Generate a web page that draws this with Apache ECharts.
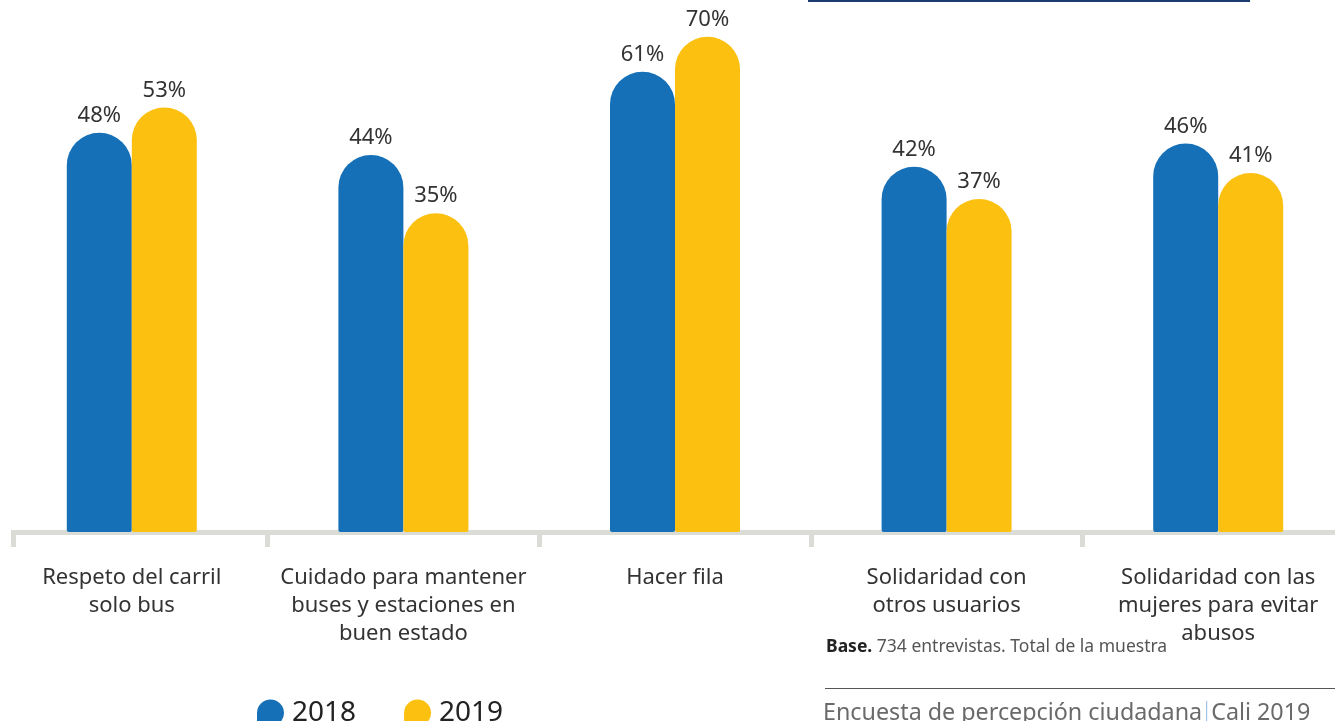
<!DOCTYPE html>
<html><head><meta charset="utf-8">
<script src="https://cdn.jsdelivr.net/npm/echarts@6/dist/echarts.min.js"></script>
<style>html,body{margin:0;padding:0;background:#fff}#c{width:1335px;height:721px}</style>
</head><body><div id="c"></div>
<script>
const categories = [
  'Respeto del carril\nsolo bus',
  'Cuidado para mantener\nbuses y estaciones en\nbuen estado',
  'Hacer fila',
  'Solidaridad con\notros usuarios',
  'Solidaridad con las\nmujeres para evitar\nabusos'
];
const seriesNames = ['2018', '2019'];
const values2018 = [48, 44, 61, 42, 46];
const values2019 = [53, 35, 70, 37, 41];
const baseNote = ' 734 entrevistas. Total de la muestra';
const footerLeft = 'Encuesta de percepción ciudadana';
const footerRight = 'Cali 2019';

const BLUE = '#1570b7', YELLOW = '#fcc010', AXIS = '#dcdcd6', TXT = '#333333';
const FONT = 'Noto Sans';
const leaf = 'path://M5,0 A5,5 0 0 1 10,5 A5,5 0 0 1 5,10 L0,10 L0,5 A5,5 0 0 1 5,0 Z';

const chart = echarts.init(document.getElementById('c'), null, {renderer: 'canvas'});
function barSeries(name, data, color) {
  return {
    name: name, type: 'bar', data: data, barWidth: 65, barGap: '0%', clip: true,
    itemStyle: {color: color, borderRadius: [32.5, 32.5, 2, 2]},
    label: {show: true, position: 'top', distance: 6, formatter: '{c}%',
            color: TXT, fontSize: 22, fontFamily: FONT}
  };
}
chart.setOption({
  animation: false,
  backgroundColor: '#ffffff',
  textStyle: {fontFamily: FONT},
  grid: {left: -4, width: 1358, top: -54, height: 586, containLabel: false, outerBoundsMode: 'none'},
  xAxis: {
    type: 'category', data: categories,
    axisLine: {lineStyle: {color: AXIS, width: 5}},
    axisTick: {show: true, length: 15, lineStyle: {color: AXIS, width: 5}},
    axisLabel: {margin: 32, color: TXT, fontSize: 22, lineHeight: 28, fontFamily: FONT, interval: 0}
  },
  yAxis: {
    type: 'log', logBase: 10, min: 10, max: 100,
    axisLine: {show: false}, axisTick: {show: false}, axisLabel: {show: false}, splitLine: {show: false}
  },
  legend: {
    left: 252, top: 694, itemWidth: 27, itemHeight: 27, itemGap: 48,
    data: [{name: seriesNames[0], icon: leaf}, {name: seriesNames[1], icon: leaf}],
    textStyle: {fontSize: 28, color: '#222', fontFamily: FONT, padding: [0, 0, 0, 3]}
  },
  series: [barSeries(seriesNames[0], values2018, BLUE), barSeries(seriesNames[1], values2019, YELLOW)],
  graphic: [
    {type: 'rect', z: 100, shape: {x: 0, y: 526, width: 11, height: 24}, style: {fill: '#fff'}},
    {type: 'rect', z: 100, shape: {x: 11, y: 530, width: 5, height: 17}, style: {fill: AXIS}},
    {type: 'rect', z: 100, shape: {x: 808, y: 0, width: 442, height: 2}, style: {fill: '#1d3c6e'}},
    {type: 'rect', z: 100, shape: {x: 825, y: 688, width: 510, height: 1}, style: {fill: '#555'}},
    {type: 'text', z: 100, left: 826, top: 638, style: {
      text: '{b|Base.}{n|' + baseNote + '}',
      rich: {b: {fontWeight: 'bold', fontSize: 17.5, fill: '#222', fontFamily: FONT},
             n: {fontSize: 17.5, fill: '#555', fontFamily: FONT}}}},
    {type: 'text', z: 100, left: 823, top: 701, style: {
      text: '{a|' + footerLeft + '}{g|}{s|}{g|}{a|' + footerRight + '}',
      rich: {a: {fontSize: 23.3, fill: '#6a6a6a', fontFamily: FONT},
             g: {width: 4},
             s: {width: 1, height: 24, backgroundColor: '#8fb8e0'}}}}
  ]
});
</script></body></html>
